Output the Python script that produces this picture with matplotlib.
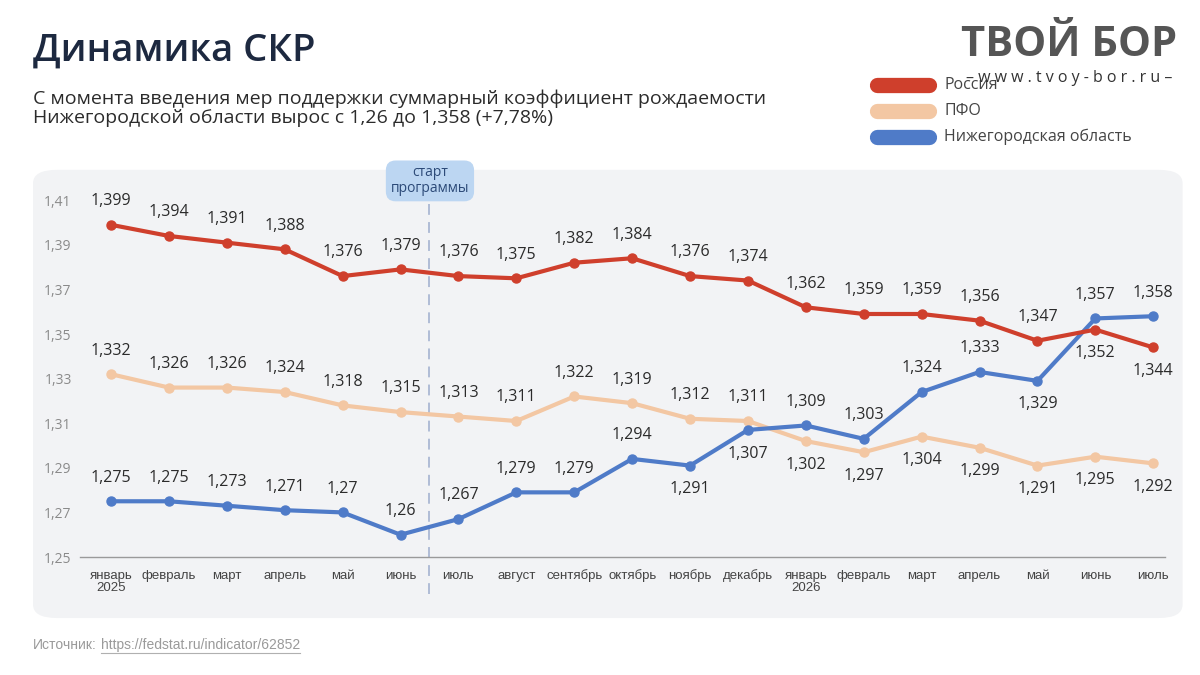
import matplotlib.pyplot as plt
from matplotlib.patches import FancyBboxPatch
from matplotlib.lines import Line2D
from matplotlib.ticker import FuncFormatter

plt.rcParams['font.family'] = ['Open Sans', 'DejaVu Sans']

months = ['январь\n2025', 'февраль', 'март', 'апрель', 'май', 'июнь', 'июль', 'август',
          'сентябрь', 'октябрь', 'ноябрь', 'декабрь', 'январь\n2026', 'февраль', 'март',
          'апрель', 'май', 'июнь', 'июль']

russia = [1.399, 1.394, 1.391, 1.388, 1.376, 1.379, 1.376, 1.375, 1.382, 1.384,
          1.376, 1.374, 1.362, 1.359, 1.359, 1.356, 1.347, 1.352, 1.344]
pfo = [1.332, 1.326, 1.326, 1.324, 1.318, 1.315, 1.313, 1.311, 1.322, 1.319,
       1.312, 1.311, 1.302, 1.297, 1.304, 1.299, 1.291, 1.295, 1.292]
nizh = [1.275, 1.275, 1.273, 1.271, 1.27, 1.26, 1.267, 1.279, 1.279, 1.294,
        1.291, 1.307, 1.309, 1.303, 1.324, 1.333, 1.329, 1.357, 1.358]

# +1 label above, -1 below
russia_pos = [1] * 17 + [-1, -1]
pfo_pos = [1] * 12 + [-1] * 7
nizh_pos = [1, 1, 1, 1, 1, 1, 1, 1, 1, 1, -1, -1, 1, 1, 1, 1, -1, 1, 1]

c_rus = '#cf3f2c'
c_pfo = '#f3c7a3'
c_niz = '#4f7bc8'

fig = plt.figure(figsize=(12, 6.75), dpi=100)
fig.patch.set_facecolor('white')

panel = FancyBboxPatch((0.0275, 0.0844), 0.958, 0.664, boxstyle='round,pad=0,rounding_size=0.02',
                       transform=fig.transFigure, facecolor='#f2f3f5', edgecolor='none', zorder=-1)
fig.add_artist(panel)

ax = fig.add_axes([0.0667, 0.1748, 0.904, 0.545])
ax.set_facecolor('none')
ax.set_xlim(-0.535, 18.2)
ax.set_ylim(1.25, 1.415)

x = list(range(len(months)))
for vals, pos, col in [(pfo, pfo_pos, c_pfo), (nizh, nizh_pos, c_niz), (russia, russia_pos, c_rus)]:
    ax.plot(x, vals, color=col, lw=3, marker='o', ms=6.5, zorder=3, solid_joinstyle='round')
    for xi, v, p in zip(x, vals, pos):
        txt = f'{v:g}'.replace('.', ',')
        ax.annotate(txt, (xi, v), xytext=(0, 17 * p), textcoords='offset points',
                    ha='center', va='center', fontsize=11.5, color='#2b2b2b', zorder=4)

ax.axvline(5.5, ymin=-0.1, ymax=0.96, color='#aab8d3', lw=1.3, ls=(0, (6, 4)), clip_on=False, zorder=2)

for s in ['top', 'right', 'left']:
    ax.spines[s].set_visible(False)
ax.spines['bottom'].set_color('#9a9a9a')
ax.spines['bottom'].set_linewidth(1)

ax.set_yticks([1.25, 1.27, 1.29, 1.31, 1.33, 1.35, 1.37, 1.39, 1.41])
ax.yaxis.set_major_formatter(FuncFormatter(lambda v, _: f'{v:.2f}'.replace('.', ',')))
ax.tick_params(axis='y', length=0, pad=6, labelsize=10, labelcolor='#8a8a8a')
ax.set_xticks(x)
ax.set_xticklabels(months, fontsize=9.5, color='#444444', linespacing=1.0,
                   family=['Liberation Sans', 'DejaVu Sans'])
ax.tick_params(axis='x', length=0, pad=9)

# start of programme bubble
fig.text(0.3583, 0.732, 'старт\nпрограммы', ha='center', va='center', fontsize=10,
         color='#2c4a78', linespacing=1.1,
         bbox=dict(boxstyle='round,pad=0.35,rounding_size=0.7', facecolor='#bcd6f2', edgecolor='none'))

fig.text(0.0275, 0.925, 'Динамика СКР', fontsize=27.5, fontweight='semibold', color='#1d2940',
         ha='left', va='center')
fig.text(0.0275, 0.84, 'С момента введения мер поддержки суммарный коэффициент рождаемости\n'
         'Нижегородской области вырос с 1,26 до 1,358 (+7,78%)', fontsize=14, color='#2b2b2b',
         ha='left', va='center', linespacing=1.1)

# legend
for yy, lab, col in [(0.874, 'Россия', c_rus), (0.8356, 'ПФО', c_pfo), (0.797, 'Нижегородская область', c_niz)]:
    fig.add_artist(Line2D([0.731, 0.774], [yy, yy], transform=fig.transFigure, color=col,
                          lw=11, solid_capstyle='round'))
    fig.text(0.787, yy, lab, fontsize=11.5, color='#444444', ha='left', va='center')

# watermark
fig.text(0.891, 0.932, 'ТВОЙ БОР', fontsize=30, fontweight='bold', color='#555555',
         ha='center', va='center')
fig.text(0.891, 0.884, '– w w w . t v o y - b o r . r u –', fontsize=11.5, color='#333333',
         ha='center', va='center')

fig.text(0.0275, 0.044, 'Источник:', fontsize=10, color='#9a9a9a', ha='left', va='center',
         family=['Liberation Sans', 'DejaVu Sans'])
fig.text(0.0842, 0.044, 'https://fedstat.ru/indicator/62852', fontsize=10, color='#9a9a9a',
         ha='left', va='center', family=['Liberation Sans', 'DejaVu Sans'])
fig.add_artist(Line2D([0.0842, 0.250], [0.033, 0.033], transform=fig.transFigure,
                      color='#b0b0b0', lw=0.8))

fig.savefig('out.png', dpi=100)
